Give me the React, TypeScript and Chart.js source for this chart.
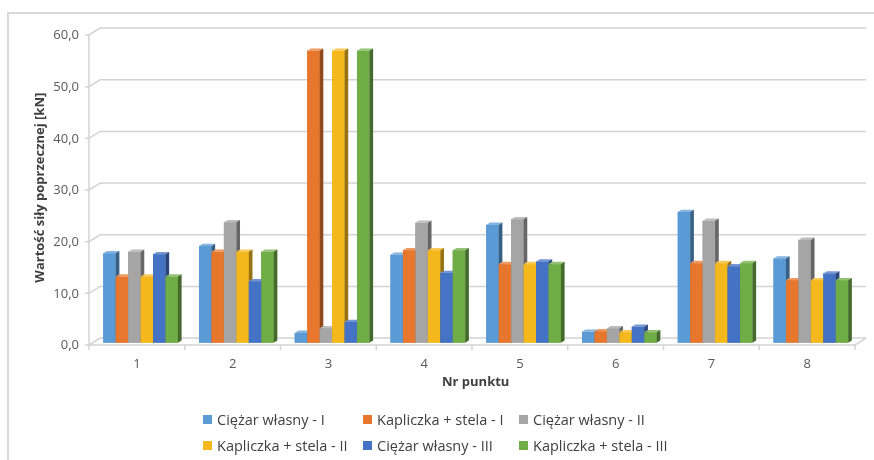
import React, { useEffect, useRef } from 'react';
import { Chart, registerables } from 'chart.js';

Chart.register(...registerables);

const categories = ['1', '2', '3', '4', '5', '6', '7', '8'];
const ciezarI = [17.3, 18.7, 1.9, 17.0, 22.8, 2.1, 25.3, 16.3];
const kapliczkaI = [12.8, 17.6, 56.5, 17.9, 15.2, 2.2, 15.4, 12.1];
const ciezarII = [17.6, 23.3, 2.8, 23.2, 23.9, 2.8, 23.6, 19.9];
const kapliczkaII = [12.8, 17.6, 56.5, 17.9, 15.2, 2.0, 15.4, 12.1];
const ciezarIII = [17.1, 11.9, 4.0, 13.5, 15.7, 3.1, 14.8, 13.4];
const kapliczkaIII = [12.8, 17.6, 56.5, 17.9, 15.2, 2.0, 15.4, 12.1];

const seriesNames = [
  'Ciężar własny - I',
  'Kapliczka + stela - I',
  'Ciężar własny - II',
  'Kapliczka + stela - II',
  'Ciężar własny - III',
  'Kapliczka + stela - III',
];
const seriesValues = [ciezarI, kapliczkaI, ciezarII, kapliczkaII, ciezarIII, kapliczkaIII];
const seriesColors = ['#5B9BD5', '#E8772E', '#A5A5A5', '#F5B81C', '#4472C4', '#70AD47'];

const yTitle = 'Wartość siły poprzecznej [kN]';
const xTitle = 'Nr punktu';

const DX = 3.7;
const DY = 2.3;
const FONT = '"Open Sans", sans-serif';

function shade(hex: string, f: number): string {
  const n = parseInt(hex.slice(1), 16);
  let r = (n >> 16) & 255, g = (n >> 8) & 255, b = n & 255;
  if (f < 1) {
    r = Math.round(r * f); g = Math.round(g * f); b = Math.round(b * f);
  } else {
    const t = f - 1;
    r = Math.round(r + (255 - r) * t); g = Math.round(g + (255 - g) * t); b = Math.round(b + (255 - b) * t);
  }
  return `rgb(${r},${g},${b})`;
}

const gridPlugin = {
  id: 'grid3d',
  beforeDatasetsDraw(chart: any) {
    const ctx = chart.ctx;
    const { left, right } = chart.chartArea;
    const ys = chart.scales.y;
    const xs = chart.scales.x;
    ctx.save();
    ctx.strokeStyle = '#d3d3d3';
    ctx.lineWidth = 1.5;
    for (const t of ys.ticks) {
      const py = ys.getPixelForValue(t.value);
      const fx = left - DX, fy = py + DY;
      const bx = left + 2 * DX, by = py - 2 * DY;
      ctx.beginPath();
      ctx.moveTo(fx - 4, fy);
      ctx.lineTo(fx, fy);
      ctx.lineTo(bx, by);
      ctx.lineTo(right + 2 * DX, by);
      ctx.stroke();
    }
    const y0 = ys.getPixelForValue(0);
    const yMax = ys.getPixelForValue(ys.max);
    ctx.beginPath();
    ctx.moveTo(left - DX, yMax + DY);
    ctx.lineTo(left - DX, y0 + DY);
    ctx.lineTo(right - DX, y0 + DY);
    ctx.lineTo(right + 2 * DX, y0 - 2 * DY);
    ctx.stroke();
    for (let k = 0; k <= categories.length; k++) {
      const bx = xs.getPixelForValue(k - 0.5) - DX;
      ctx.beginPath();
      ctx.moveTo(bx, y0 + DY);
      ctx.lineTo(bx, y0 + DY + 5);
      ctx.stroke();
    }
    ctx.restore();
  },
};

const bar3dPlugin = {
  id: 'bar3d',
  afterDatasetsDraw(chart: any) {
    const ctx = chart.ctx;
    for (let i = 0; i < chart.data.datasets.length; i++) {
      const meta = chart.getDatasetMeta(i);
      const base = seriesColors[i];
      const top = shade(base, 1.25);
      const side = shade(base, 0.62);
      meta.data.forEach((el: any) => {
        el.draw(ctx, chart.chartArea);
        const { x, y, base: b, width } = el.getProps(['x', 'y', 'base', 'width'], true);
        const l = x - width / 2;
        const r = x + width / 2;
        ctx.save();
        ctx.fillStyle = top;
        ctx.beginPath();
        ctx.moveTo(l, y);
        ctx.lineTo(r, y);
        ctx.lineTo(r + DX, y - DY);
        ctx.lineTo(l + DX, y - DY);
        ctx.closePath();
        ctx.fill();
        ctx.fillStyle = side;
        ctx.beginPath();
        ctx.moveTo(r, y);
        ctx.lineTo(r + DX, y - DY);
        ctx.lineTo(r + DX, b - DY);
        ctx.lineTo(r, b);
        ctx.closePath();
        ctx.fill();
        ctx.restore();
      });
    }
  },
};

export default function App() {
  const ref = useRef<HTMLCanvasElement | null>(null);

  useEffect(() => {
    if (!ref.current) return;
    const chart = new Chart(ref.current, {
      type: 'bar',
      data: {
        labels: categories,
        datasets: seriesNames.map((name, i) => ({
          label: name,
          data: seriesValues[i],
          backgroundColor: seriesColors[i],
          borderWidth: 0,
          categoryPercentage: 0.78,
          barPercentage: 1.0,
        })),
      },
      options: {
        responsive: false,
        animation: false,
        devicePixelRatio: 1,
        layout: { padding: { left: 0, top: 32.7, right: 15.3, bottom: 0 } },
        plugins: {
          legend: { display: false },
          tooltip: { enabled: false },
        },
        scales: {
          x: {
            grid: { display: false, drawTicks: false },
            border: { display: false },
            ticks: {
              color: '#595959',
              font: { family: FONT, size: 13 },
              padding: 14,
              labelOffset: -DX,
              maxRotation: 0,
            },
            title: {
              display: true,
              text: xTitle,
              color: '#404040',
              font: { family: FONT, size: 13, weight: 'bold' },
              padding: { top: 0, bottom: 70 },
            },
            afterFit: (s: any) => { s.height = 117.3; },
          },
          y: {
            min: 0,
            max: 60,
            grid: { display: false, drawTicks: false },
            border: { display: false },
            ticks: {
              stepSize: 10,
              color: '#595959',
              font: { family: FONT, size: 13 },
              padding: 13.7,
              labelOffset: 3,
              callback: (v: any) => Number(v).toFixed(1).replace('.', ','),
            },
            title: {
              display: true,
              text: yTitle,
              color: '#404040',
              font: { family: FONT, size: 13, weight: 'bold' },
              padding: { top: 32, bottom: 0 },
            },
            afterFit: (s: any) => { s.width = 92.7; },
          },
        },
      },
      plugins: [gridPlugin, bar3dPlugin],
    } as any);
    return () => chart.destroy();
  }, []);

  return (
    <div style={{ position: 'fixed', left: 0, top: 0, width: 874, height: 460, background: '#fff', overflow: 'hidden' }}>
      <div style={{ position: 'absolute', left: 7, top: 12, width: 880, height: 460, borderTop: '2px solid #d9d9d9', borderLeft: '2px solid #d9d9d9' }} />
      <canvas ref={ref} width={874} height={460} style={{ position: 'absolute', left: 0, top: 0, display: 'block' }} />
      <div
        style={{
          position: 'absolute',
          left: 203,
          top: 407,
          display: 'grid',
          gridTemplateColumns: '160px 156px 170px',
          gridAutoRows: '25.5px',
          fontFamily: FONT,
          fontSize: 14.5,
          color: '#404040',
          whiteSpace: 'nowrap',
        }}
      >
        {seriesNames.map((name, i) => (
          <div key={name} style={{ display: 'flex', alignItems: 'center', lineHeight: '25px' }}>
            <span style={{ display: 'inline-block', width: 9, height: 9, background: seriesColors[i], marginRight: 5 }} />
            <span>{name}</span>
          </div>
        ))}
      </div>
    </div>
  );
}
